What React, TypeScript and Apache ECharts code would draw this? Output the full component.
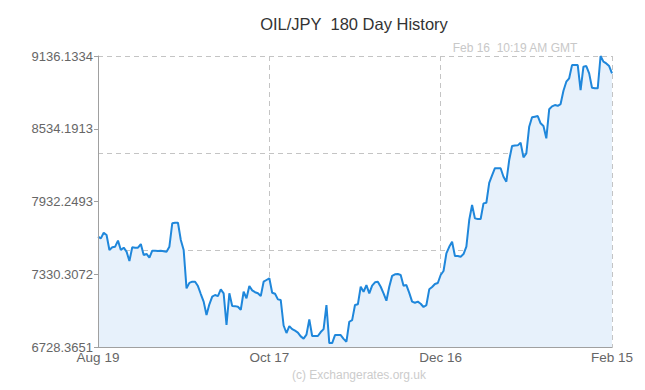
import React, { useEffect, useRef } from "react";
import * as echarts from "echarts";

const title = "OIL/JPY  180 Day History";
const stamp = "Feb 16  10:19 AM GMT";
const credit = "(c) Exchangerates.org.uk";

const xTickDays = [0, 60, 120, 180];
const xTickLabels = ["Aug 19", "Oct 17", "Dec 16", "Feb 15"];
const yTicks = [6728.3651, 7330.3072, 7932.2493, 8534.1913, 9136.1334];

// price per day offset from Aug 19
const prices = [
  7644, 7630, 7676, 7658, 7534, 7556, 7561, 7611, 7534, 7553,
  7520, 7443, 7556, 7553, 7553, 7583, 7492, 7501, 7470, 7528,
  7528, 7526, 7528, 7524, 7520, 7561, 7754, 7759, 7759, 7616,
  7534, 7217, 7262, 7272, 7272, 7236, 7170, 7107, 6997, 7085,
  7148, 7162, 7153, 7209, 7176, 6914, 7176, 7071, 7070, 7065,
  7040, 7189, 7135, 7236, 7200, 7185, 7176, 7153, 7272, 7286,
  7300, 7181, 7172, 7126, 7120, 6910, 6848, 6905, 6880, 6867,
  6852, 6820, 6802, 6835, 6961, 6823, 6823, 6823, 6856, 6880,
  7079, 6765, 6765, 6831, 6831, 6831, 6800, 6776, 6941, 6955,
  7079, 7085, 7230, 7189, 7244, 7176, 7240, 7267, 7272, 7230,
  7176, 7115, 7230, 7320, 7333, 7335, 7327, 7238, 7244, 7180,
  7107, 7098, 7107, 7090, 7063, 7079, 7209, 7228, 7253, 7261,
  7327, 7360, 7505, 7560, 7602, 7484, 7484, 7478, 7500, 7561,
  7781, 7905, 7795, 7790, 7790, 7919, 7924, 8089, 8150, 8209,
  8209, 8209, 8139, 8098, 8277, 8393, 8397, 8398, 8420, 8299,
  8332, 8552, 8630, 8635, 8640, 8580, 8558, 8456, 8696, 8720,
  8731, 8725, 8739, 8849, 8924, 8952, 9061, 9061, 9061, 8855,
  9048, 9053, 8993, 8874, 8869, 8869, 9136.1334, 9090, 9075, 9053,
  8993,
];
const days = prices.map((_, i) => i);

const FONT = "'Liberation Sans', Arial, Helvetica, sans-serif";
const DASH = { color: "#c4c4c4", width: 1, type: [5, 4] as number[] };

export default function App() {
  const ref = useRef<HTMLDivElement>(null);
  useEffect(() => {
    if (!ref.current) return;
    const chart = echarts.init(ref.current, undefined, { renderer: "svg" });
    const labelFor = (v: number) => {
      const i = xTickDays.indexOf(Math.round(v));
      return i >= 0 ? xTickLabels[i] : "";
    };
    chart.setOption({
      animation: false,
      backgroundColor: "#ffffff",
      textStyle: { fontFamily: FONT },
      grid: { left: 98, right: 33, top: 56, bottom: 42.5, containLabel: false },
      xAxis: [
        {
          type: "value",
          min: xTickDays[0],
          max: xTickDays[xTickDays.length - 1],
          interval: 60,
          axisLine: { show: false },
          axisTick: { show: false },
          axisLabel: { show: false },
          splitLine: { show: true, lineStyle: DASH },
        },
        {
          type: "value",
          position: "bottom",
          min: xTickDays[0],
          max: xTickDays[xTickDays.length - 1],
          interval: 60,
          z: 5,
          axisLine: { show: true, lineStyle: { color: "#a0a0a0", width: 1 } },
          axisTick: { show: false },
          splitLine: { show: false },
          axisLabel: {
            show: true,
            margin: 3,
            color: "#666",
            fontSize: 13.5,
            fontFamily: FONT,
            formatter: labelFor,
          },
        },
      ],
      yAxis: [
        {
          type: "value",
          min: yTicks[0],
          max: yTicks[yTicks.length - 1],
          z: 5,
          axisLine: { show: true, lineStyle: { color: "#a0a0a0", width: 1 } },
          axisTick: {
            show: true,
            length: 4,
            lineStyle: { color: "#a0a0a0" },
            customValues: yTicks,
          },
          axisLabel: {
            show: true,
            margin: 5,
            color: "#666",
            fontSize: 13,
            fontFamily: FONT,
            customValues: yTicks,
            formatter: (v: number) => v.toFixed(4),
          },
          splitLine: { show: false },
        },
        {
          type: "value",
          min: 0,
          max: 3,
          interval: 1,
          axisLine: { show: false },
          axisTick: { show: false },
          axisLabel: { show: false },
          splitLine: { show: true, lineStyle: DASH },
        },
      ],
      series: [
        {
          type: "line",
          xAxisIndex: 0,
          yAxisIndex: 0,
          data: days.map((d, i) => [d, prices[i]]),
          showSymbol: false,
          symbol: "none",
          smooth: false,
          z: 3,
          lineStyle: { color: "#1f87db", width: 2 },
          areaStyle: { color: "#e7f1fb", opacity: 1 },
        },
      ],
      graphic: [
        {
          type: "text",
          x: 354,
          y: 23.5,
          style: {
            text: title,
            textAlign: "center",
            textVerticalAlign: "middle",
            fontSize: 16.5,
            fontFamily: FONT,
            fill: "#333",
          },
        },
        {
          type: "text",
          x: 515,
          y: 48,
          style: {
            text: stamp,
            textAlign: "center",
            textVerticalAlign: "middle",
            fontSize: 12,
            fontFamily: FONT,
            fill: "#c8c8c8",
          },
        },
        {
          type: "text",
          x: 359,
          y: 375,
          style: {
            text: credit,
            textAlign: "center",
            textVerticalAlign: "middle",
            fontSize: 12,
            fontFamily: FONT,
            fill: "#cccccc",
          },
        },
      ],
    });
    return () => chart.dispose();
  }, []);
  return (
    <div
      ref={ref}
      style={{ position: "absolute", left: 0, top: 0, width: 645, height: 390 }}
    />
  );
}
